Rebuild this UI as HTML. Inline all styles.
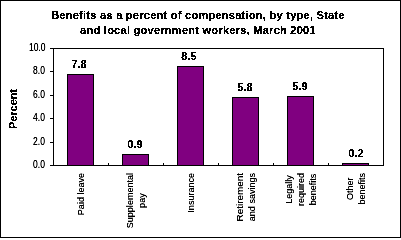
<!DOCTYPE html>
<html><head><meta charset="utf-8">
<style>
html,body{margin:0;padding:0;}
body{width:401px;height:238px;position:relative;overflow:hidden;background:#fff;font-family:"Liberation Sans",sans-serif;color:#000;}
#frame{position:absolute;left:0;top:0;width:399px;height:236px;border:1px solid #000;}
svg.c{position:absolute;left:0;top:0;}
.tx{filter:url(#crisp);}
.sf{filter:url(#soft);}
#title{position:absolute;left:0;width:396px;top:8px;text-align:center;font-weight:bold;font-size:11px;letter-spacing:0.27px;line-height:15px;}
.yl{position:absolute;right:356px;font-size:10px;line-height:10px;text-align:right;transform-origin:100% 50%;transform:scaleX(0.85);}
.dl{position:absolute;width:40px;font-size:10px;font-weight:bold;line-height:12px;text-align:center;transform:scaleX(1.1);}
.cat{position:absolute;width:0;height:0;top:173px;}
.cat div{position:absolute;right:0;transform-origin:100% 50%;transform:rotate(-90deg) scaleX(0.95);font-size:9.5px;line-height:12px;text-align:center;white-space:nowrap;}
</style></head><body>
<svg width="0" height="0" style="position:absolute">
<filter id="crisp" x="-20%" y="-20%" width="140%" height="140%"><feComponentTransfer><feFuncA type="discrete" tableValues="0 1 1"/></feComponentTransfer></filter>
<filter id="soft" x="-20%" y="-20%" width="140%" height="140%"><feComponentTransfer><feFuncA type="linear" slope="1.4"/></feComponentTransfer></filter>
</svg>
<div id="frame"></div>
<svg class="c" width="401" height="238" viewBox="0 0 401 238" shape-rendering="crispEdges">
<g fill="#800080" stroke="#000" stroke-width="1">
<rect x="67.5" y="74.5" width="26" height="91"/>
<rect x="122.5" y="154.5" width="26" height="11"/>
<rect x="177.5" y="66.5" width="26" height="99"/>
<rect x="232.5" y="97.5" width="26" height="68"/>
<rect x="287.5" y="96.5" width="26" height="69"/>
<rect x="342.5" y="163.5" width="26" height="2"/>
</g>
<g stroke="#000" stroke-width="1" fill="none">
<path d="M53.5 48.5H383.5V165.5H53.5Z"/>
<path d="M50 48.5H53M50 71.5H53M50 95.5H53M50 118.5H53M50 142.5H53M50 165.5H53"/>
<path d="M108.5 163V165M163.5 163V165M218.5 163V165M273.5 163V165M328.5 163V165"/>
</g>
</svg>
<div id="title" class="tx">Benefits as a percent of compensation, by type, State<br>and local government workers, March 2001</div>
<div style="position:absolute;left:8px;top:128.5px;width:0;height:0;"><div class="tx" style="position:absolute;left:0;top:0;transform-origin:0 0;transform:rotate(-90deg) scaleX(1.09);font-size:10px;font-weight:bold;line-height:12px;">Percent</div></div>
<div class="sf">
<div class="yl" style="top:43px">10.0</div>
<div class="yl" style="top:66px">8.0</div>
<div class="yl" style="top:90px">6.0</div>
<div class="yl" style="top:113px">4.0</div>
<div class="yl" style="top:137px">2.0</div>
<div class="yl" style="top:160px">0.0</div>
</div>
<div class="tx">
<div class="dl" style="left:59px;top:58.5px">7.8</div>
<div class="dl" style="left:115px;top:138.5px">0.9</div>
<div class="dl" style="left:169px;top:50.5px">8.5</div>
<div class="dl" style="left:225px;top:81.5px">5.8</div>
<div class="dl" style="left:279.5px;top:80.5px">5.9</div>
<div class="dl" style="left:335.5px;top:147.5px">0.2</div>
</div>
<div class="sf">
<div class="cat" style="left:81px"><div style="top:-6px">Paid leave</div></div>
<div class="cat" style="left:136px"><div style="top:-12px">Supplemental<br>pay</div></div>
<div class="cat" style="left:191px"><div style="top:-6px">Insurance</div></div>
<div class="cat" style="left:246px"><div style="top:-12px"><span style="display:inline-block;transform:scaleX(1.1)">Retirement</span><br>and savings</div></div>
<div class="cat" style="left:301px"><div style="top:-18px">Legally<br>required<br>benefits</div></div>
<div class="cat" style="left:356px"><div style="top:-12px">Other<br>benefits</div></div>
</div>
</body></html>
